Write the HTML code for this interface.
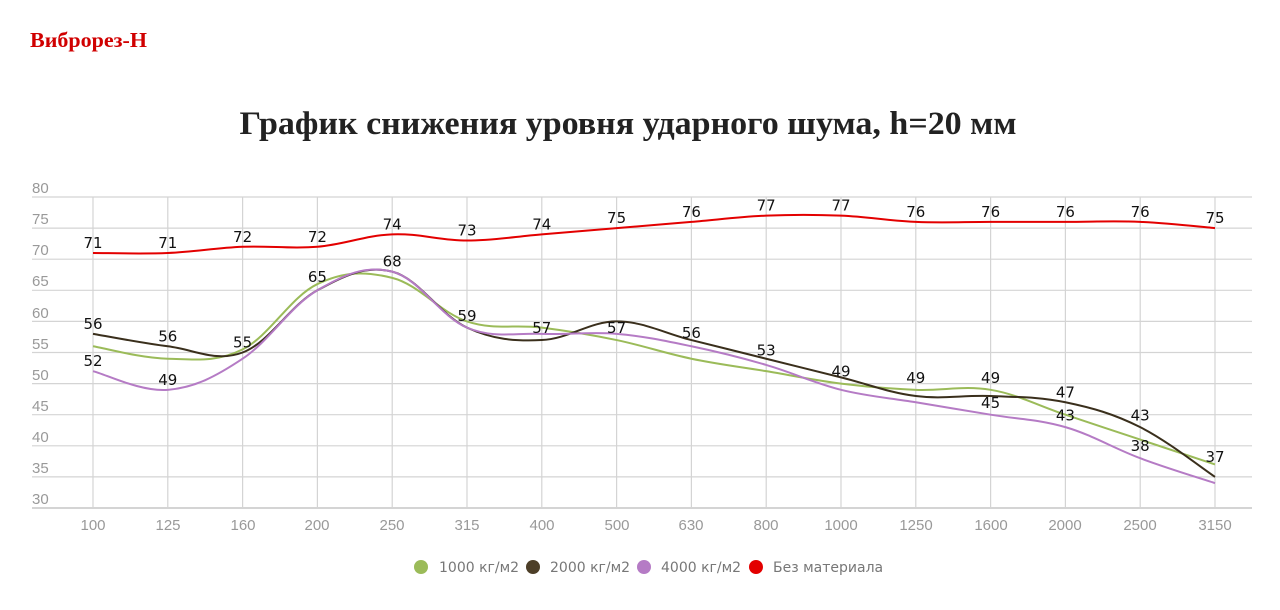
<!DOCTYPE html>
<html><head><meta charset="utf-8"><style>
html,body{margin:0;padding:0;background:#fff;}
svg{display:block;}
.ax{font-family:"Liberation Sans","DejaVu Sans",sans-serif;font-size:15px;fill:#999;}
.lb{font-family:"DejaVu Sans","Liberation Sans",sans-serif;font-size:15px;fill:#111;text-anchor:middle;}
.lg{font-family:"DejaVu Sans","Liberation Sans",sans-serif;font-size:14px;fill:#777;}
</style></head><body>
<svg id="s" width="1280" height="610" xmlns="http://www.w3.org/2000/svg">
<text x="30" y="47" font-family="'Liberation Serif',serif" font-weight="bold" font-size="21" fill="#d00000" textLength="117" lengthAdjust="spacingAndGlyphs">Виброрез-Н</text>
<text x="628" y="134" text-anchor="middle" font-family="'Liberation Serif',serif" font-weight="bold" font-size="33" fill="#222" textLength="777" lengthAdjust="spacingAndGlyphs">График снижения уровня ударного шума, h=20 мм</text>
<g id="grid"></g>
<g class="ax" id="yl">
<text x="32" y="193">80</text><text x="32" y="224">75</text><text x="32" y="255">70</text><text x="32" y="286">65</text><text x="32" y="318">60</text><text x="32" y="349">55</text><text x="32" y="380">50</text><text x="32" y="411">45</text><text x="32" y="442">40</text><text x="32" y="473">35</text><text x="32" y="504">30</text>
</g>
<g class="ax" text-anchor="middle" id="xl">
<text x="93" y="530">100</text><text x="168" y="530">125</text><text x="243" y="530">160</text><text x="317" y="530">200</text><text x="392" y="530">250</text><text x="467" y="530">315</text><text x="542" y="530">400</text><text x="617" y="530">500</text><text x="691" y="530">630</text><text x="766" y="530">800</text><text x="841" y="530">1000</text><text x="916" y="530">1250</text><text x="991" y="530">1600</text><text x="1065" y="530">2000</text><text x="1140" y="530">2500</text><text x="1215" y="530">3150</text>
</g>
<g id="lines"></g>
<g class="lb" id="labels">
<text data-i="0" data-v="71">71</text><text data-i="1" data-v="71">71</text><text data-i="2" data-v="72">72</text><text data-i="3" data-v="72">72</text><text data-i="4" data-v="74">74</text><text data-i="5" data-v="73">73</text><text data-i="6" data-v="74">74</text><text data-i="7" data-v="75">75</text><text data-i="8" data-v="76">76</text><text data-i="9" data-v="77">77</text><text data-i="10" data-v="77">77</text><text data-i="11" data-v="76">76</text><text data-i="12" data-v="76">76</text><text data-i="13" data-v="76">76</text><text data-i="14" data-v="76">76</text><text data-i="15" data-v="75">75</text>
<text data-i="0" data-v="58">56</text><text data-i="0" data-v="52">52</text>
<text data-i="1" data-v="56">56</text><text data-i="1" data-v="49">49</text>
<text data-i="2" data-v="55">55</text><text data-i="3" data-v="65.5">65</text><text data-i="4" data-v="68">68</text>
<text data-i="5" data-v="59.3">59</text><text data-i="6" data-v="57.3">57</text><text data-i="7" data-v="57.3">57</text>
<text data-i="8" data-v="56.5">56</text><text data-i="9" data-v="53.7">53</text><text data-i="10" data-v="50.3">49</text>
<text data-i="11" data-v="49.3">49</text><text data-i="12" data-v="49.3">49</text><text data-i="12" data-v="45.3">45</text>
<text data-i="13" data-v="47">47</text><text data-i="13" data-v="43.3">43</text>
<text data-i="14" data-v="43.3">43</text><text data-i="14" data-v="38.4">38</text><text data-i="15" data-v="36.6">37</text>
</g>
<g id="leg">
<circle cx="421" cy="567" r="7" fill="#9bbb59"/><text class="lg" x="439" y="572">1000 кг/м2</text>
<circle cx="533" cy="567" r="7" fill="#4d3f28"/><text class="lg" x="550" y="572">2000 кг/м2</text>
<circle cx="644" cy="567" r="7" fill="#b57bc5"/><text class="lg" x="661" y="572">4000 кг/м2</text>
<circle cx="756" cy="567" r="7" fill="#e30000"/><text class="lg" x="773" y="572">Без материала</text>
</g>
</svg>
<script>
var NS="http://www.w3.org/2000/svg";
function X(i){return 93+74.8*i;}
function Y(v){return 197+(80-v)*6.22;}
var g=document.getElementById('grid');
function el(t,a,p){var e=document.createElementNS(NS,t);for(var k in a)e.setAttribute(k,a[k]);p.appendChild(e);return e;}
for(var k=0;k<=10;k++){var y=Y(80-5*k);el('line',{x1:32,x2:1252,y1:y,y2:y,stroke:k==10?'#bbb':'#d4d4d4','stroke-width':1.2},g);}
for(var i=0;i<16;i++){el('line',{x1:X(i),x2:X(i),y1:197,y2:508,stroke:'#d4d4d4','stroke-width':1.2},g);}
var S=[
 ['#9bbb59',[56,54,55.5,66,67,60,59,57,54,52,50,49,49,45,41,37]],
 ['#3a2f1c',[58,56,55,65,68,59,57,60,57,54,51,48,48,47,43,35]],
 ['#b57bc5',[52,49,54,65,68,59,58,58,56,53,49,47,45,43,38,34]],
 ['#e30000',[71,71,72,72,74,73,74,75,76,77,77,76,76,76,76,75]]
];
var L=document.getElementById('lines');
S.forEach(function(s){
 var p=s[1].map(function(v,i){return [X(i),Y(v)];});
 var d='M'+p[0][0]+','+p[0][1];
 for(var i=0;i<p.length-1;i++){
  var p0=p[i-1]||p[i],p1=p[i],p2=p[i+1],p3=p[i+2]||p2,t=0.18;
  var c1=[p1[0]+(p2[0]-p0[0])*t,p1[1]+(p2[1]-p0[1])*t];
  var c2=[p2[0]-(p3[0]-p1[0])*t,p2[1]-(p3[1]-p1[1])*t];
  d+=' C'+c1+' '+c2+' '+p2;
 }
 el('path',{d:d,fill:'none',stroke:s[0],'stroke-width':2},L);
});
Array.prototype.forEach.call(document.querySelectorAll('#labels text'),function(t){
 t.setAttribute('x',X(+t.dataset.i));t.setAttribute('y',Y(+t.dataset.v)-5);
});
</script>
</body></html>
